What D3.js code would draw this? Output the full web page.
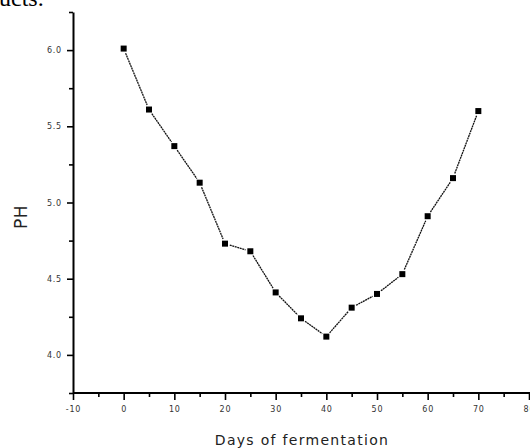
<!DOCTYPE html>
<html>
<head>
<meta charset="utf-8">
<script src="https://cdn.jsdelivr.net/npm/d3@7"></script>
<style>
  body { margin: 0; background: #fff; }
  svg { display: block; }
  .tick text { font-family: "DejaVu Sans", sans-serif; font-size: 8px; fill: #333; letter-spacing: 0.8px; }
  .axis path, .axis line { stroke: #000; }
  .axis-label { font-family: "DejaVu Sans", sans-serif; font-size: 14px; fill: #222; letter-spacing: 1.3px; }
</style>
</head>
<body>
<div id="chart"></div>
<script>
// Days of fermentation and measured pH
const days = [0, 5, 10, 15, 20, 25, 30, 35, 40, 45, 50, 55, 60, 65, 70];
const phValues = [6.01, 5.61, 5.37, 5.13, 4.73, 4.68, 4.41, 4.24, 4.12, 4.31, 4.40, 4.53, 4.91, 5.16, 5.60];

// Axis ticks
const xTicks = [-10, 0, 10, 20, 30, 40, 50, 60, 70, 80];
const xMinorTicks = [-5, 5, 15, 25, 35, 45, 55, 65, 75];
const yTicks = [4.0, 4.5, 5.0, 5.5, 6.0];
const yMinorTicks = [3.75, 4.25, 4.75, 5.25, 5.75, 6.25];

const W = 530, H = 448;
const margin = {top: 12, right: 1, bottom: 55, left: 73};
const width = W - margin.left - margin.right;
const height = H - margin.top - margin.bottom;

const svg = d3.select("#chart")
    .append("svg")
    .attr("width", W)
    .attr("height", H);

// cropped text from the page above the figure
svg.append("text")
    .attr("x", -1)
    .attr("y", 6)
    .style("font-family", "'Liberation Serif', serif")
    .style("font-size", "24px")
    .style("fill", "#000")
    .text("ucts.");

const g = svg.append("g")
    .attr("transform", `translate(${margin.left},${margin.top})`);

const xScale = d3.scaleLinear()
    .domain([-10, 80])
    .range([0, 456]);

const yScale = d3.scaleLinear()
    .domain([3.75, 6.25])
    .range([height, 0]);

// minor ticks
g.append("g")
    .attr("class", "axis")
    .attr("transform", `translate(0,${height})`)
    .call(d3.axisBottom(xScale).tickValues(xMinorTicks).tickSize(4).tickFormat(""))
    .call(s => s.select(".domain").remove());

g.append("g")
    .attr("class", "axis")
    .call(d3.axisLeft(yScale).tickValues(yMinorTicks).tickSize(4).tickFormat(""))
    .call(s => s.select(".domain").remove());

// major axes
const xAxis = g.append("g")
    .attr("class", "axis x-axis")
    .attr("transform", `translate(0,${height})`)
    .call(d3.axisBottom(xScale).tickValues(xTicks).tickSize(7).tickSizeOuter(0).tickPadding(6).tickFormat(d => String(d)));
xAxis.select(".domain").attr("d", `M0,0H${W}`);

const yAxis = g.append("g")
    .attr("class", "axis y-axis")
    .call(d3.axisLeft(yScale).tickValues(yTicks).tickSize(6).tickSizeOuter(0).tickPadding(5).tickFormat(d3.format(".1f")));

g.selectAll(".axis path, .axis line").attr("stroke-width", 1.6);
g.selectAll(".domain").attr("stroke-width", 2);

// data line drawn as segments with small gaps at the markers
const pts = days.map((d, i) => [xScale(d), yScale(phValues[i])]);
const gap = 5;
const segs = d3.pairs(pts).map(([a, b]) => {
    const dx = b[0] - a[0], dy = b[1] - a[1];
    const len = Math.hypot(dx, dy);
    const ux = dx / len, uy = dy / len;
    return [[a[0] + ux * gap, a[1] + uy * gap], [b[0] - ux * gap, b[1] - uy * gap]];
});

g.selectAll(".seg")
    .data(segs)
    .enter()
    .append("line")
    .attr("class", "seg")
    .attr("x1", d => d[0][0])
    .attr("y1", d => d[0][1])
    .attr("x2", d => d[1][0])
    .attr("y2", d => d[1][1])
    .attr("stroke", "#111")
    .attr("stroke-width", 1.3)
    .attr("stroke-dasharray", "2,0.6");

// square markers
g.selectAll(".pt")
    .data(days)
    .enter()
    .append("rect")
    .attr("class", "pt")
    .attr("x", (d, i) => xScale(d) - 3)
    .attr("y", (d, i) => yScale(phValues[i]) - 3)
    .attr("width", 6)
    .attr("height", 6)
    .attr("fill", "#000");

// axis labels
svg.append("text")
    .attr("class", "axis-label")
    .attr("transform", "translate(27,217) rotate(-90)")
    .attr("text-anchor", "middle")
    .style("font-size", "17px")
    .style("letter-spacing", "0.5px")
    .text("PH");

svg.append("text")
    .attr("class", "axis-label")
    .attr("x", 302)
    .attr("y", 445)
    .attr("text-anchor", "middle")
    .text("Days of fermentation");
</script>
</body>
</html>
